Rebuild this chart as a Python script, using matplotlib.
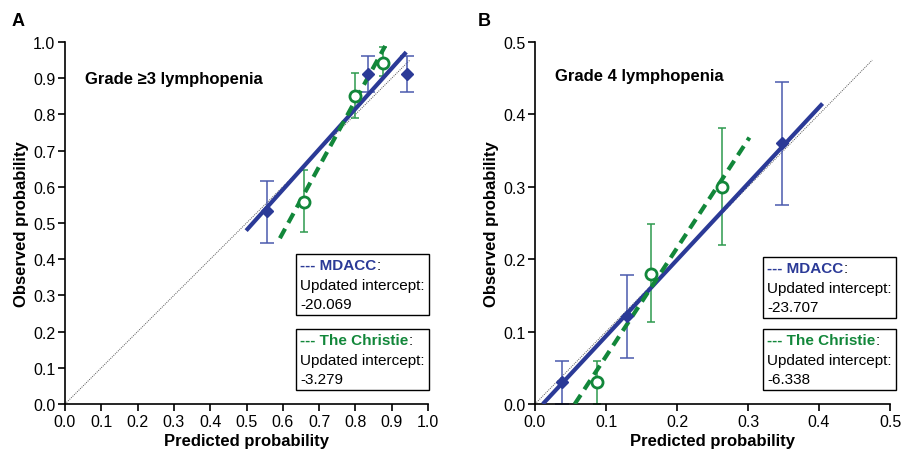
import matplotlib
matplotlib.use("Agg")
import matplotlib.pyplot as plt
from matplotlib.offsetbox import TextArea, HPacker, VPacker, AnchoredOffsetbox

plt.rcParams['font.family'] = ['Liberation Sans', 'DejaVu Sans']

BLUE = '#2b3a97'
BLUE_ERR = '#4a5aae'
GREEN = '#12873a'
GREEN_ERR = '#2e9a4e'

# Panel A: Grade >=3 lymphopenia
a_mdacc_x = [0.556, 0.835, 0.941]
a_mdacc_y = [0.533, 0.911, 0.911]
a_mdacc_lo = [0.445, 0.861, 0.861]
a_mdacc_hi = [0.617, 0.960, 0.960]
a_chr_x = [0.658, 0.799, 0.875]
a_chr_y = [0.559, 0.852, 0.941]
a_chr_lo = [0.476, 0.789, 0.905]
a_chr_hi = [0.646, 0.913, 0.985]
a_mdacc_line_x = [0.499, 0.940]
a_mdacc_line_y = [0.479, 0.972]
a_chr_line_x = [0.592, 0.882]
a_chr_line_y = [0.458, 0.989]
a_intercepts = ['-20.069', '-3.279']

# Panel B: Grade 4 lymphopenia
b_mdacc_x = [0.038, 0.129, 0.348]
b_mdacc_y = [0.031, 0.121, 0.360]
b_mdacc_lo = [0.0, 0.063, 0.275]
b_mdacc_hi = [0.059, 0.178, 0.445]
b_chr_x = [0.088, 0.164, 0.263]
b_chr_y = [0.031, 0.180, 0.300]
b_chr_lo = [0.0, 0.113, 0.220]
b_chr_hi = [0.059, 0.249, 0.381]
b_mdacc_line_x = [0.011, 0.405]
b_mdacc_line_y = [0.0, 0.415]
b_chr_line_x = [0.056, 0.302]
b_chr_line_y = [0.0, 0.368]
b_intercepts = ['-23.707', '-6.338']

fig = plt.figure(figsize=(9.06, 4.56), dpi=100)
axA = fig.add_axes([65/906, 1-405/456, 363/906, 362/456])
axB = fig.add_axes([535/906, 1-405/456, 355/906, 362/456])


def draw(ax, lim, step, mx, my, mlo, mhi, cx, cy, clo, chi, mlx, mly, clx, cly, title, title_pos):
    # diagonal reference
    ax.plot([0, lim*0.95], [0, lim*0.95], color='#555555', lw=0.7, ls=(0, (1, 1.2)), zorder=1)
    # fitted lines
    ax.plot(mlx, mly, color=BLUE, lw=3, solid_capstyle='butt', zorder=3)
    ax.plot(clx, cly, color=GREEN, lw=3, ls=(0, (2.6, 1.6)), zorder=3)
    # error bars
    ax.errorbar(mx, my, yerr=[[y - l for y, l in zip(my, mlo)], [h - y for y, h in zip(my, mhi)]],
                fmt='none', ecolor=BLUE_ERR, elinewidth=1.1, capsize=5, capthick=1.1, zorder=2, clip_on=False)
    ax.errorbar(cx, cy, yerr=[[y - l for y, l in zip(cy, clo)], [h - y for y, h in zip(cy, chi)]],
                fmt='none', ecolor=GREEN_ERR, elinewidth=1.1, capsize=3, capthick=1.1, zorder=2, clip_on=False)
    ax.plot(mx, my, 'D', color=BLUE, ms=6.5, mec=BLUE, zorder=4, clip_on=False)
    ax.plot(cx, cy, 'o', mfc='white', mec=GREEN, mew=2, ms=8, zorder=4, clip_on=False)

    ax.set_xlim(0, lim)
    ax.set_ylim(0, lim)
    ticks = [round(i*step, 2) for i in range(int(round(lim/step))+1)]
    ax.set_xticks(ticks)
    ax.set_yticks(ticks)
    ax.set_xticklabels([f'{t:.1f}' for t in ticks])
    ax.set_yticklabels([f'{t:.1f}' for t in ticks])
    for s in ['top', 'right']:
        ax.spines[s].set_visible(False)
    for s in ['left', 'bottom']:
        ax.spines[s].set_linewidth(1.2)
    ax.tick_params(direction='out', length=5, width=1.2, labelsize=11.5, colors='black', pad=2)
    ax.set_xlabel('Predicted probability', fontsize=12, fontweight='bold', labelpad=3)
    ax.set_ylabel('Observed probability', fontsize=12, fontweight='bold', labelpad=3)
    ax.text(title_pos[0], title_pos[1], title, transform=ax.transAxes, fontsize=12,
            fontweight='bold', va='center', ha='left')


def infobox(fig, name, color, value, x_px, y_px):
    fs = 11
    head = HPacker(children=[TextArea('--- ' + name, textprops=dict(color=color, fontweight='bold', fontsize=fs)),
                             TextArea(':', textprops=dict(color='black', fontsize=fs))], pad=0, sep=0)
    l2 = TextArea('Updated intercept:', textprops=dict(color='black', fontsize=fs))
    l3 = TextArea(value, textprops=dict(color='black', fontsize=fs))
    vp = VPacker(children=[head, l2, l3], align='left', pad=0, sep=4)
    box = AnchoredOffsetbox(loc='upper left', child=vp, pad=0.3, borderpad=0, frameon=True,
                            bbox_to_anchor=(x_px/906, 1-y_px/456), bbox_transform=fig.transFigure)
    box.patch.set_edgecolor('black')
    box.patch.set_linewidth(1.0)
    box.patch.set_boxstyle('square', pad=0)
    fig.add_artist(box)


draw(axA, 1.0, 0.1, a_mdacc_x, a_mdacc_y, a_mdacc_lo, a_mdacc_hi, a_chr_x, a_chr_y, a_chr_lo, a_chr_hi,
     a_mdacc_line_x, a_mdacc_line_y, a_chr_line_x, a_chr_line_y, 'Grade \u22653 lymphopenia', (0.055, 0.9))
draw(axB, 0.5, 0.1, b_mdacc_x, b_mdacc_y, b_mdacc_lo, b_mdacc_hi, b_chr_x, b_chr_y, b_chr_lo, b_chr_hi,
     b_mdacc_line_x, b_mdacc_line_y, b_chr_line_x, b_chr_line_y, 'Grade 4 lymphopenia', (0.056, 0.908))

infobox(fig, 'MDACC', BLUE, a_intercepts[0], 296, 255)
infobox(fig, 'The Christie', GREEN, a_intercepts[1], 296, 330)
infobox(fig, 'MDACC', BLUE, b_intercepts[0], 763, 258)
infobox(fig, 'The Christie', GREEN, b_intercepts[1], 763, 330)

fig.text(12/906, 1-22/456, 'A', fontsize=13, fontweight='bold', va='center', ha='left')
fig.text(478/906, 1-22/456, 'B', fontsize=13, fontweight='bold', va='center', ha='left')

fig.savefig('out.png', dpi=100)
